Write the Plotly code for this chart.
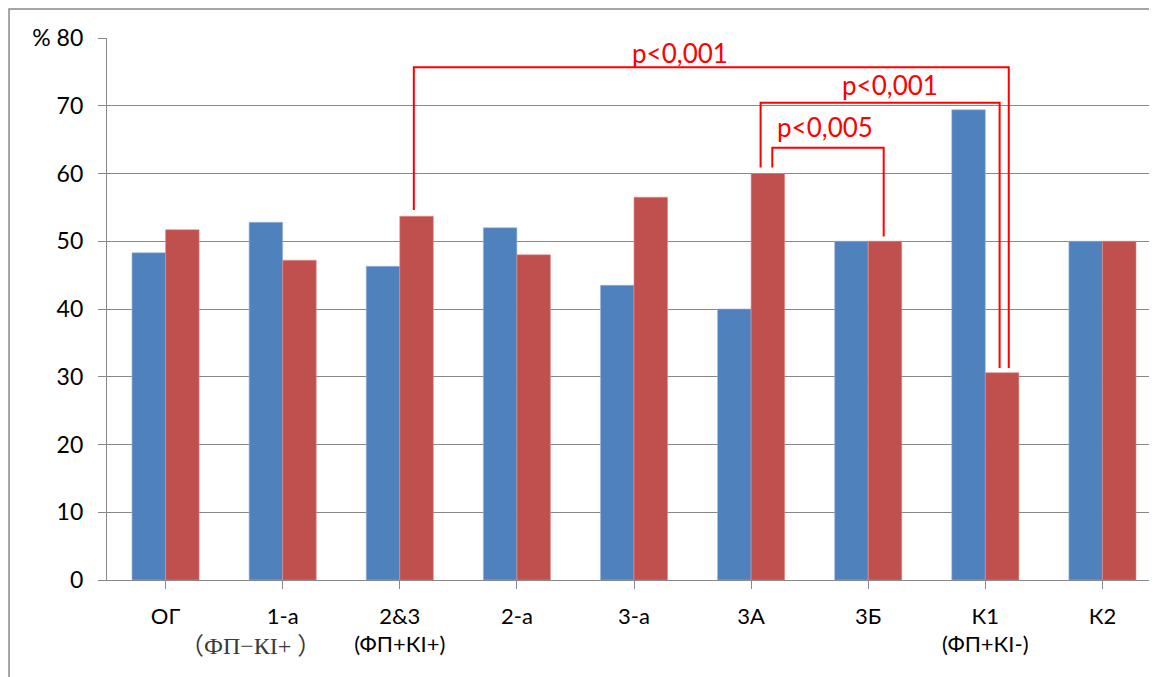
import plotly.graph_objects as go

categories = ["ОГ", "1-а", "2&3", "2-а", "3-а", "3А", "3Б", "К1", "К2"]
second_lines = ["", "", "(ФП+КI+)", "", "", "", "", "(ФП+КI-)", ""]
serif_note = "（ФП−КI+ ）"
blue_vals = [48.3, 52.8, 46.3, 52.0, 43.5, 40.0, 50.0, 69.4, 50.0]
red_vals = [51.7, 47.2, 53.7, 48.0, 56.5, 60.0, 50.0, 30.6, 50.0]
y_ticks = [0, 10, 20, 30, 40, 50, 60, 70, 80]
y_ticktext = ["0", "10", "20", "30", "40", "50", "60", "70", "% 80"]

# significance brackets: (from category, from offset, to category, to offset, level, label, label x, label y)
brackets = [
    (2, 0.12, 7, 0.20, 75.7, "p&lt;0,001", 4.39, 77.8),
    (5, 0.081, 7, 0.122, 70.45, "p&lt;0,001", 6.19, 73.1),
    (5, 0.181, 6, 0.132, 63.8, "p&lt;0,005", 5.63, 66.9),
]

BLUE = "#4F81BD"
RED = "#C0504D"
GRID = "#888888"
FONT = "Lato, Liberation Sans, sans-serif"

x_idx = list(range(len(categories)))
fig = go.Figure()
fig.add_trace(go.Bar(x=x_idx, y=blue_vals, marker=dict(color=BLUE, line=dict(color="#9db7dc", width=0.6)), showlegend=False))
fig.add_trace(go.Bar(x=x_idx, y=red_vals, marker=dict(color=RED, line=dict(color="#e08c8a", width=0.6)), showlegend=False))

ticktext = [c if s == "" else f"{c}<br>{s}" for c, s in zip(categories, second_lines)]

shapes = []
annotations = []
for (c0, o0, c1, o1, lvl, lab, tx, ty) in brackets:
    xa = c0 + o0
    xb = c1 + o1
    ya = red_vals[c0] + 0.9
    yb = red_vals[c1] + 0.7
    shapes.append(dict(type="path", xref="x", yref="y",
                       path=f"M {xa} {ya} L {xa} {lvl} L {xb} {lvl} L {xb} {yb}",
                       line=dict(color="#FF0000", width=2)))
    annotations.append(dict(x=tx, y=ty, xref="x", yref="y", text=lab, showarrow=False,
                            font=dict(family=FONT, size=26, color="#FF0000")))

annotations.append(dict(x=1, y=-0.121, xref="x", yref="paper", xshift=-32, yanchor="middle",
                        text=serif_note, showarrow=False,
                        font=dict(family="Liberation Serif, Noto Sans CJK SC, serif", size=24, color="#3a3a3a")))

# outer chart frame
shapes.append(dict(type="rect", xref="paper", yref="paper", x0=-0.0933, x1=1.2, y0=-0.3, y1=1.0535,
                   line=dict(color="#888888", width=1.5), fillcolor="rgba(0,0,0,0)", layer="below"))

fig.update_layout(
    width=1149, height=669,
    margin=dict(l=99, r=0, t=30, b=97),
    paper_bgcolor="white", plot_bgcolor="white",
    barmode="group", bargap=0.427, bargroupgap=0,
    font=dict(family=FONT, size=22, color="black"),
    shapes=shapes, annotations=annotations,
    xaxis=dict(tickmode="array", tickvals=x_idx, ticktext=ticktext, range=[-0.5, 8.5 - 4 / 117.1],
               showline=True, linecolor=GRID, linewidth=1.2, ticks="outside", ticklen=8,
               tickcolor=GRID, tickson="boundaries", showgrid=False, zeroline=False,
               ticklabelstandoff=8, tickfont=dict(family=FONT, size=22)),
    yaxis=dict(range=[0, 80], tickmode="array", tickvals=y_ticks, ticktext=y_ticktext,
               showline=True, linecolor=GRID, linewidth=1.2, ticks="outside", ticklen=8,
               tickcolor=GRID, showgrid=True, gridcolor=GRID, gridwidth=1.2, zeroline=False,
               ticklabelstandoff=10, tickfont=dict(family=FONT, size=23)),
)

fig.write_html("out.html")
